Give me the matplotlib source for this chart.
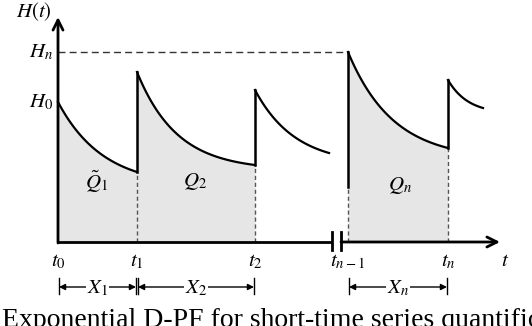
import numpy as np
import matplotlib.pyplot as plt

plt.rcParams["mathtext.fontset"] = "stix"
plt.rcParams["font.family"] = ["Liberation Serif", "DejaVu Serif"]

# schematic values, origin at (t0, 0)
H0 = 140
HN = 190
T_AXIS_END = 442
H_AXIS_END = 225
BREAK = [274, 283]

tick_t = [0, 79, 197, 290, 390]
tick_labels = ["$t_0$", "$t_1$", "$t_2$", "$t_{n-1}$", "$t_n$"]

seg_t0 = [0, 79, 197, 290, 390]
seg_t1 = [79, 197, 271, 390, 425]
seg_h0 = [140, 170, 152, 190, 162]
seg_h1 = [70, 77, 89, 94, 134]
seg_tau = [45, 40, 40, 45, 20]
seg_shaded = [True, True, False, True, False]

# jumps: (t, low, high)
jump_t = [79, 197, 290, 390]
jump_low = [70, 77, 55, 94]
jump_high = [170, 152, 190, 162]
jump_dash_top = [70, 77, 55, 94]

area_labels = [r"$\tilde{Q}_1$", "$Q_2$", "$Q_n$"]
area_x = [39, 137, 342]
area_y = [60, 60, 57]

span_labels = ["$X_1$", "$X_2$", "$X_n$"]
span_a = [0, 79, 290]
span_b = [79, 197, 390]
SPAN_Y = -45


def decay(t0, t1, h0, h1, tau):
    t = np.linspace(t0, t1, 120)
    e = np.exp(-(t1 - t0) / tau)
    c = (h1 - h0 * e) / (1 - e)
    return t, c + (h0 - c) * np.exp(-(t - t0) / tau)


fig = plt.figure(figsize=(5.32, 3.26), dpi=100)
ax = fig.add_axes([0, 0, 1, 1])
ax.set_xlim(-58, 474)
ax.set_ylim(-84, 242)
ax.axis("off")

curves = [decay(*args) for args in zip(seg_t0, seg_t1, seg_h0, seg_h1, seg_tau)]
for (t, h), shaded in zip(curves, seg_shaded):
    if shaded:
        ax.fill_between(t, 0, h, color="#e6e6e6", lw=0, zorder=1)

# H_n reference line
ax.plot([0, seg_t0[3]], [HN, HN], color="#333333", lw=1.0, ls=(0, (5, 3)), zorder=2)

# dashed drop lines and solid jumps
for t, lo, hi, top in zip(jump_t, jump_low, jump_high, jump_dash_top):
    ax.plot([t, t], [0, top], color="#555555", lw=1.0, ls=(0, (3, 2)), zorder=2)
    ax.plot([t, t], [lo, hi], color="black", lw=1.8, zorder=3)

for t, h in curves:
    ax.plot(t, h, color="black", lw=1.6, zorder=3)

# axes with break
ax.plot([0, BREAK[0]], [0, 0], color="black", lw=2.0, zorder=4, solid_capstyle="butt")
ax.annotate("", xy=(T_AXIS_END, 0), xytext=(BREAK[1], 0),
            arrowprops=dict(arrowstyle="->", lw=2.0, color="black", mutation_scale=18,
                            shrinkA=0, shrinkB=0), zorder=4)
for b in BREAK:
    ax.plot([b, b], [-8, 10], color="black", lw=2.0, zorder=4)
ax.annotate("", xy=(0, H_AXIS_END), xytext=(0, -1),
            arrowprops=dict(arrowstyle="->", lw=2.0, color="black", mutation_scale=18,
                            shrinkA=0, shrinkB=0), zorder=4)

# labels
fs = 15
ax.text(-24, 230, "$H(t)$", fontsize=fs, ha="center", va="center")
ax.text(-5, HN, "$H_n$", fontsize=fs, ha="right", va="center")
ax.text(-5, H0, "$H_0$", fontsize=fs, ha="right", va="center")
for t, lab in zip(tick_t, tick_labels):
    ax.text(t, -20, lab, fontsize=fs, ha="center", va="center")
ax.text(447, -20, "$t$", fontsize=fs, ha="center", va="center")

for x, y, lab in zip(area_x, area_y, area_labels):
    ax.text(x, y, lab, fontsize=fs, ha="center", va="center", zorder=5)

for a, b, lab in zip(span_a, span_b, span_labels):
    ax.annotate("", xy=(b - 1, SPAN_Y), xytext=(a + 1, SPAN_Y),
                arrowprops=dict(arrowstyle="<|-|>", lw=1.0, color="black",
                                mutation_scale=9, shrinkA=0, shrinkB=0))
    for x in (a + 1, b - 1):
        ax.plot([x, x], [SPAN_Y + 9, SPAN_Y - 7], color="black", lw=1.0)
    ax.text((a + b) / 2, SPAN_Y - 1, lab, fontsize=fs, ha="center", va="center",
            bbox=dict(facecolor="white", edgecolor="none", pad=0.5))

# clipped caption at bottom edge
fig.text(0.004, 1 - 308 / 326, "Exponential D-PF for short-time series quantification",
         fontsize=20, ha="left", va="top")

fig.savefig("out.png", dpi=100)
